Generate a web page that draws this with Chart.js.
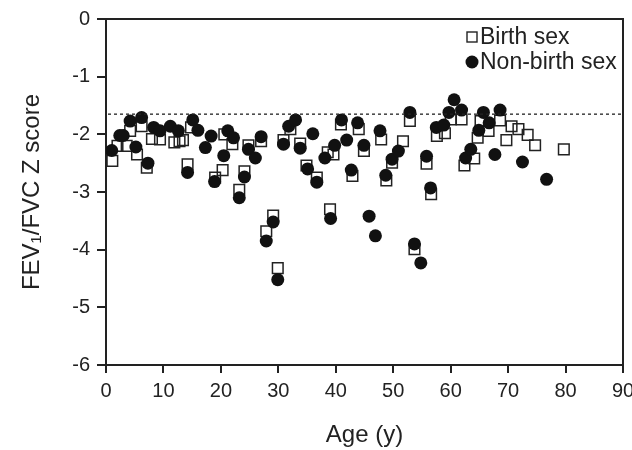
<!DOCTYPE html>
<html>
<head>
<meta charset="utf-8">
<script src="https://cdn.jsdelivr.net/npm/chart.js@4"></script>
<style>
html,body{margin:0;padding:0;background:#fff;}
canvas{display:block;}
</style>
</head>
<body>
<canvas id="c" width="632" height="450"></canvas>
<script>
// Birth sex (open squares): age, z score
const birthAge = [1.1,2.0,3.6,4.2,5.4,6.2,7.1,8.0,9.4,11.9,12.8,13.4,14.2,14.8,19.0,20.3,20.6,22.0,23.2,24.1,24.8,27.0,27.9,29.1,29.9,30.9,32.1,33.8,34.9,36.7,38.6,39.6,39.0,40.9,42.9,44.0,44.9,47.9,48.8,49.8,51.7,52.9,53.7,55.8,56.6,57.6,59.0,60.0,61.9,62.4,64.1,64.7,65.2,66.6,68.6,69.7,70.6,71.8,73.4,74.7,79.7];
const birthZ = [-2.46,-2.20,-2.20,-1.94,-2.35,-1.86,-2.58,-2.08,-2.09,-2.14,-2.12,-2.10,-2.52,-1.88,-2.75,-2.62,-2.00,-2.17,-2.96,-2.64,-2.19,-2.12,-3.68,-3.41,-4.32,-2.10,-1.91,-2.16,-2.54,-2.75,-2.31,-2.35,-3.30,-1.83,-2.72,-1.91,-2.29,-2.09,-2.80,-2.49,-2.12,-1.77,-3.99,-2.51,-3.04,-2.03,-1.98,-1.74,-1.74,-2.54,-2.42,-2.06,-1.77,-1.94,-1.76,-2.10,-1.86,-1.91,-2.01,-2.19,-2.26];
// Non-birth sex (filled circles)
const nonBirthAge = [1.0,2.4,3.0,4.2,5.2,6.2,7.3,8.3,9.4,11.2,12.6,14.2,15.1,16.0,17.3,18.3,18.9,20.5,21.2,22.2,23.2,24.1,24.8,26.0,27.0,27.9,29.1,29.9,30.9,31.8,33.0,33.8,35.1,36.0,36.7,38.1,39.1,39.8,41.0,41.9,42.7,43.8,44.9,45.8,46.9,47.7,48.7,49.8,50.9,52.9,53.7,54.8,55.8,56.5,57.5,58.8,59.7,60.6,61.9,62.6,63.5,64.9,65.7,66.7,67.7,68.6,72.5,76.7];
const nonBirthZ = [-2.28,-2.02,-2.02,-1.77,-2.22,-1.71,-2.50,-1.88,-1.94,-1.86,-1.94,-2.66,-1.75,-1.93,-2.23,-2.03,-2.82,-2.37,-1.94,-2.06,-3.10,-2.74,-2.26,-2.41,-2.04,-3.85,-3.52,-4.52,-2.17,-1.86,-1.75,-2.24,-2.60,-1.99,-2.83,-2.41,-3.46,-2.19,-1.75,-2.10,-2.62,-1.80,-2.19,-3.42,-3.76,-1.94,-2.71,-2.43,-2.29,-1.62,-3.90,-4.23,-2.38,-2.93,-1.88,-1.84,-1.62,-1.40,-1.58,-2.41,-2.26,-1.93,-1.62,-1.80,-2.35,-1.58,-2.48,-2.78];
const lowerLimit = -1.645;
const xTicks = [0,10,20,30,40,50,60,70,80,90];
const yTicks = [0,-1,-2,-3,-4,-5,-6];
const seriesNames = ['Birth sex','Non-birth sex'];

const toPts = (xs, ys) => xs.map((x, i) => ({x: x, y: ys[i]}));
const FONT = '"Liberation Sans", Arial, sans-serif';
const INK = '#222222';

const refPlugin = {
  id: 'refline',
  afterDraw(chart) {
    const {ctx, chartArea: a, scales} = chart;
    ctx.save();
    ctx.strokeStyle = '#222';
    ctx.fillStyle = '#222';
    // dashed lower limit line
    const yl = Math.round(scales.y.getPixelForValue(lowerLimit));
    for (let x = a.left + 2; x < a.right - 1; x += 6) {
      ctx.fillRect(x, yl - 0.5, 3, 1.3);
    }
    // legend
    const lx = a.right - 151, ly1 = a.top + 18, ly2 = a.top + 43;
    ctx.lineWidth = 1.4;
    ctx.strokeRect(lx - 5, ly1 - 5, 10, 10);
    ctx.fillStyle = '#111';
    ctx.beginPath();
    ctx.arc(lx, ly2, 6.5, 0, Math.PI * 2);
    ctx.fill();
    ctx.font = '23px ' + FONT;
    ctx.textBaseline = 'middle';
    ctx.textAlign = 'left';
    ctx.fillStyle = INK;
    ctx.fillText(seriesNames[0], lx + 8, ly1 + 1);
    ctx.fillText(seriesNames[1], lx + 8, ly2 + 1);
    ctx.restore();
  }
};

const tickBuilder = arr => s => { s.ticks = arr.map(v => ({value: v})); };

new Chart(document.getElementById('c'), {
  type: 'scatter',
  data: {
    datasets: [
      {
        label: seriesNames[1],
        data: toPts(nonBirthAge, nonBirthZ),
        pointStyle: 'circle',
        pointRadius: 6.5,
        backgroundColor: '#111',
        borderColor: '#111',
        borderWidth: 0,
        order: 0
      },
      {
        label: seriesNames[0],
        data: toPts(birthAge, birthZ),
        pointStyle: 'rect',
        pointRadius: 7.5,
        backgroundColor: 'rgba(0,0,0,0)',
        borderColor: '#222',
        borderWidth: 1.5,
        order: 1
      }
    ]
  },
  options: {
    responsive: false,
    animation: false,
    devicePixelRatio: 1,
    layout: {padding: {top: 19, right: 9, left: 0, bottom: 0}},
    plugins: {legend: {display: false}, tooltip: {enabled: false}},
    scales: {
      x: {
        type: 'linear',
        position: 'bottom',
        min: 0, max: 90,
        afterBuildTicks: tickBuilder(xTicks),
        afterFit(s) { s.height = 85; s.paddingRight = 0; s.paddingLeft = 0; },
        border: {display: true, color: INK, width: 2},
        grid: {display: true, drawOnChartArea: false, drawTicks: true, tickLength: 8, color: INK, lineWidth: 2},
        ticks: {font: {family: FONT, size: 20}, color: INK, padding: 6, maxRotation: 0},
        title: {display: true, text: 'Age (y)', font: {family: FONT, size: 24}, color: INK, padding: {top: 12, bottom: 0}}
      },
      xTop: {
        type: 'linear',
        position: 'top',
        min: 0, max: 90,
        afterFit(s) { s.height = 0; s.paddingRight = 0; s.paddingLeft = 0; },
        border: {display: true, color: INK, width: 2},
        grid: {display: false},
        ticks: {display: false}
      },
      y: {
        type: 'linear',
        position: 'left',
        min: -6, max: 0,
        afterBuildTicks: tickBuilder(yTicks),
        afterFit(s) { s.width = 106; },
        border: {display: true, color: INK, width: 2},
        grid: {display: true, drawOnChartArea: false, drawTicks: true, tickLength: 9, color: INK, lineWidth: 2},
        ticks: {font: {family: FONT, size: 20}, color: INK, padding: 7},
        title: {display: true, text: 'FEV\u2081/FVC Z score', font: {family: FONT, size: 24}, color: INK, padding: {top: 18, bottom: 0}}
      },
      yRight: {
        type: 'linear',
        position: 'right',
        min: -6, max: 0,
        afterFit(s) { s.width = 0; s.paddingTop = 0; s.paddingBottom = 0; },
        border: {display: true, color: INK, width: 2},
        grid: {display: false},
        ticks: {display: false}
      }
    }
  },
  plugins: [refPlugin]
});
</script>
</body>
</html>
